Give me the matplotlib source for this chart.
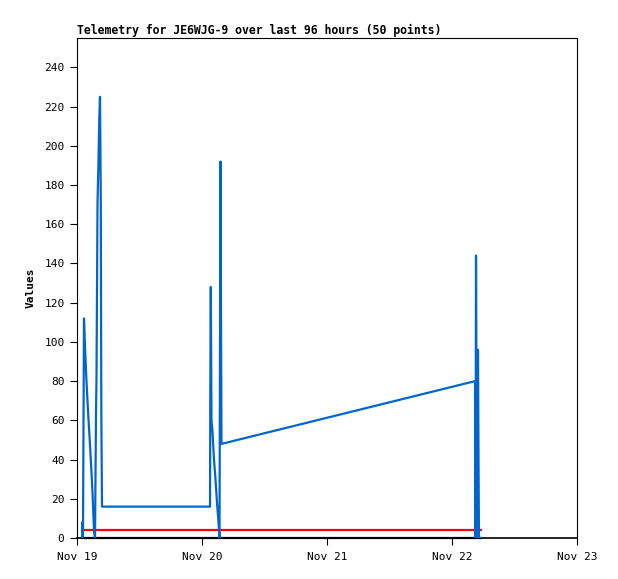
import numpy as np
import matplotlib
matplotlib.use("Agg")
import matplotlib.pyplot as plt
import matplotlib.dates as mdates
from datetime import datetime, timedelta

# hours after Nov 19 00:00
hours = [0.96, 1.06, 1.15, 1.34, 1.54, 1.82, 2.11, 2.40, 2.69, 2.98,
         3.26, 3.46, 3.65, 3.74, 3.94, 4.13, 4.28, 4.42, 4.57, 4.67,
         4.80, 25.54, 25.59, 25.69, 25.82, 26.02, 26.30, 26.59, 26.88, 27.17,
         27.36, 27.55, 27.74, 76.42, 76.51, 76.61, 76.80, 76.99, 77.09, 77.18,
         77.57]
blue_vals = [0, 8, 0, 112, 97, 80, 65, 52, 38, 23,
             4, 0, 64, 80, 171, 193, 214, 225, 171, 64,
             16, 16, 72, 128, 60, 54, 40, 30, 18, 8,
             0, 192, 48, 80, 0, 144, 0, 96, 40, 0,
             0]
red_vals = [4] * len(hours)
black_vals = [0] * len(hours)

base = datetime(2024, 11, 19)
times = [base + timedelta(hours=h) for h in hours]
tick_days = [base + timedelta(days=d) for d in range(5)]
tick_labels = ['Nov 19', 'Nov 20', 'Nov 21', 'Nov 22', 'Nov 23']

plt.rcParams['font.family'] = 'DejaVu Sans Mono'

fig = plt.figure(figsize=(6.18, 5.79), dpi=100)
ax = fig.add_axes([77/618, 41/579, 500/618, 500/579])

ax.plot(times, black_vals, color='black', lw=1.6, clip_on=False, zorder=3)
ax.plot(times, red_vals, color='#ff0000', lw=1.6, zorder=4)
ax.plot(times, blue_vals, color='#0066cc', lw=1.6, zorder=5)

ax.set_xlim(tick_days[0], tick_days[-1])
ax.set_ylim(0, 255)
ax.set_xticks(tick_days)
ax.set_xticklabels(tick_labels)
ax.set_yticks(range(0, 241, 20))
ax.tick_params(direction='out', length=5, width=0.8, labelsize=8, pad=4)
ax.tick_params(axis='x', pad=5)
for s in ax.spines.values():
    s.set_linewidth(0.8)
ax.spines['bottom'].set_linewidth(1.2)

ax.set_ylabel('Values', fontsize=8, fontweight='bold', labelpad=6)
ax.set_title('Telemetry for JE6WJG-9 over last 96 hours (50 points)',
             fontsize=8.3, fontweight='bold', loc='left', pad=3)

fig.savefig('out.png', dpi=100)
